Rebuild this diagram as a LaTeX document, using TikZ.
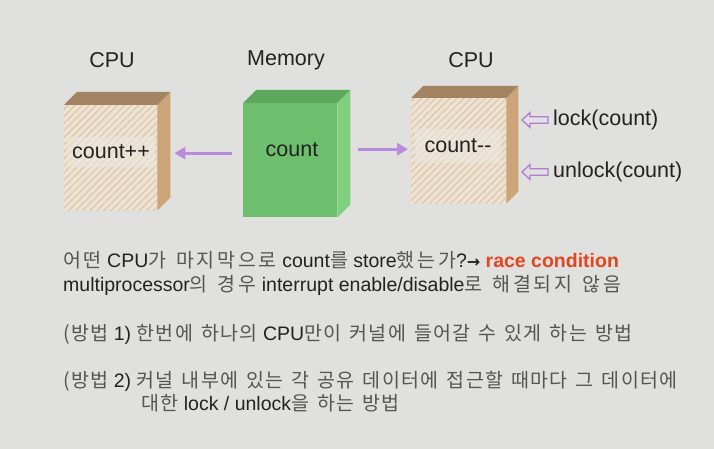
\documentclass[tikz,border=0pt]{standalone}
\usepackage{fontspec}
\setmainfont{Liberation Sans}
\newfontfamily\krfont[LetterSpace=7,WordSpace=1.4]{Noto Sans CJK KR}
\newfontfamily\krwidefont[LetterSpace=14,WordSpace=1.4]{Noto Sans CJK KR}
\newfontfamily\symfont{DejaVu Sans}
\usetikzlibrary{patterns.meta,arrows.meta}
\definecolor{bg}{HTML}{E0E0DE}
\definecolor{txt}{HTML}{222222}
\definecolor{krgray}{HTML}{555555}
\definecolor{cpubase}{HTML}{EEE2D3}
\definecolor{cpustripe}{HTML}{DCC6AA}
\definecolor{cputop}{HTML}{A38462}
\definecolor{cpuside}{HTML}{CCA477}
\definecolor{band}{HTML}{ECE7E0}
\definecolor{memfront}{HTML}{6DBE6D}
\definecolor{memtop}{HTML}{5EA85E}
\definecolor{memside}{HTML}{80D080}
\definecolor{purp}{HTML}{B98BDD}
\definecolor{purp2}{HTML}{B07CD4}
\definecolor{racered}{HTML}{E2461E}
\newcommand{\kr}[1]{{\krfont\color{krgray}#1}}
\newcommand{\krw}[1]{{\krwidefont\color{krgray}#1}}
\begin{document}
\begin{tikzpicture}[x=1pt,y=-1pt,
  lbl/.style={font=\fontsize{21.5}{25}\selectfont, text=txt, inner sep=0pt},
  body/.style={font=\fontsize{19.5}{23}\selectfont, text=txt, inner sep=0pt, anchor=base west},
  cpufront/.style={draw=none, inner sep=0pt, anchor=north west, fill=cpubase,
    postaction={pattern={Lines[angle=45,distance=5pt,line width=1.1pt]}, pattern color=cpustripe}},
  memfrontst/.style={draw=none, inner sep=0pt, anchor=north west, fill=memfront},
  bandst/.style={lbl, fill=band, fill opacity=0.6, text opacity=1},
  arr/.style={-{Triangle[length=11pt,width=12pt]}, line width=3pt, draw=purp},
  openarr/.style={draw=purp2, line width=1.3pt, fill=bg, line join=miter}
]
\fill[bg] (0,0) rectangle (714,449);
\useasboundingbox (0,0) rectangle (714,449);

% left CPU cube
\node[cpufront, minimum width=93pt, minimum height=105pt] (cpuL) at (64,105) {};
\fill[cputop] (cpuL.north west) -- ++(13,-13) -- ([shift={(13,-13)}]cpuL.north east) -- (cpuL.north east) -- cycle;
\fill[cpuside] (cpuL.north east) -- ++(13,-13) -- ([shift={(13,-13)}]cpuL.south east) -- (cpuL.south east) -- cycle;
\node[bandst, minimum width=88pt, minimum height=30pt] (tL) at (111,152) {count++};

% memory cube
\node[memfrontst, minimum width=94pt, minimum height=114pt] (memF) at (243,103) {};
\fill[memtop] (memF.north west) -- ++(13,-13) -- ([shift={(13,-13)}]memF.north east) -- (memF.north east) -- cycle;
\fill[memside] (memF.north east) -- ++(13,-13) -- ([shift={(13,-13)}]memF.south east) -- (memF.south east) -- cycle;
\node[lbl] (tM) at (292,150) {count};

% right CPU cube
\node[cpufront, minimum width=95pt, minimum height=105pt] (cpuR) at (411,98) {};
\fill[cputop] (cpuR.north west) -- ++(12,-12) -- ([shift={(12,-12)}]cpuR.north east) -- (cpuR.north east) -- cycle;
\fill[cpuside] (cpuR.north east) -- ++(12,-12) -- ([shift={(12,-12)}]cpuR.south east) -- (cpuR.south east) -- cycle;
\node[bandst, minimum width=86pt, minimum height=34pt] (tR) at (458,146) {count-{}-};

% labels
\node[lbl] (labL) at (112,60) {CPU};
\node[lbl] (labM) at (286,60) {Memory};
\node[lbl] (labR) at (471,60) {CPU};

% arrows
\draw[arr] ([shift={(-11,-7)}]memF.west) -- ([shift={(17,-4.5)}]cpuL.east);
\draw[arr] ([shift={(21,-11)}]memF.east) -- ([shift={(-3,-1.5)}]cpuR.west);

% lock / unlock
\node[lbl, anchor=west] (lockt) at (553,120) {lock(count)};
\node[lbl, anchor=west] (unlockt) at (553,172) {unlock(count)};
\coordinate (lk) at ([xshift=-31pt]lockt.west);
\coordinate (ulk) at ([xshift=-31pt]unlockt.west);
\draw[openarr] (lk) -- ++(8,-7.5) -- ++(0,4.3) -- ++(18,0) -- ++(0,6.4) -- ++(-18,0) -- ++(0,4.3) -- cycle;
\draw[openarr] (ulk) -- ++(8,-7.5) -- ++(0,4.3) -- ++(18,0) -- ++(0,6.4) -- ++(-18,0) -- ++(0,4.3) -- cycle;

% body text
\node[body] (l1) at (63,267.5) {\krw{어떤} CPU\krw{가 마지막으로} count\krw{를} store\krw{했는가}?{\symfont\bfseries\fontsize{16}{16}\selectfont →} \textcolor{racered}{\textbf{race condition}}};
\node[body] (l2) at (63,291.5) {multiprocessor\krw{의 경우} interrupt enable/disable\krw{로 해결되지 않음}};
\node[body] (l3) at (63,340) {\kr{(방법} 1) \kr{한번에 하나의} CPU\kr{만이 커널에 들어갈 수 있게 하는 방법}};
\node[body] (l4) at (63,387) {\kr{(방법} 2) \kr{커널 내부에 있는 각 공유 데이터에 접근할 때마다 그 데이터에}};
\node[body] (l5) at (141,410) {\kr{대한} lock / unlock\kr{을 하는 방법}};
\end{tikzpicture}
\end{document}
